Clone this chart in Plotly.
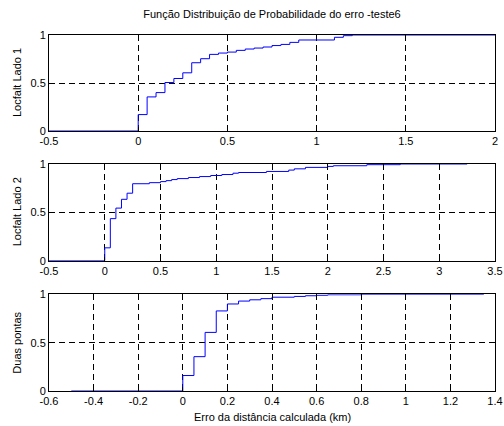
import plotly.graph_objects as go

lado1_x = [0.00, 0.05, 0.10, 0.15, 0.20, 0.25, 0.30, 0.35, 0.40, 0.45, 0.50,
           0.55, 0.60, 0.65, 0.70, 0.75, 0.80, 0.85, 0.90, 1.10, 1.15, 1.20]
lado1_y = [0.171, 0.355, 0.400, 0.505, 0.547, 0.606, 0.711, 0.753, 0.798, 0.812, 0.822,
           0.840, 0.854, 0.864, 0.875, 0.890, 0.902, 0.923, 0.948, 0.976, 0.993, 1.000]

lado2_x = [0.00, 0.05, 0.10, 0.15, 0.20, 0.25, 0.40, 0.50, 0.55, 0.60, 0.65, 0.75,
           0.85, 0.95, 1.05, 1.15, 1.20, 1.45, 1.65, 1.70, 1.80, 2.00, 2.05, 2.35, 2.65]
lado2_y = [0.133, 0.435, 0.544, 0.635, 0.698, 0.796, 0.807, 0.818, 0.828, 0.839, 0.849, 0.860,
           0.870, 0.881, 0.891, 0.905, 0.912, 0.923, 0.937, 0.950, 0.965, 0.975, 0.982, 0.993, 1.000]

duas_x = [0.00, 0.05, 0.10, 0.15, 0.20, 0.25, 0.30, 0.35, 0.40, 0.50, 0.55, 0.60, 0.65, 0.80]
duas_y = [0.160, 0.355, 0.606, 0.828, 0.900, 0.930, 0.943, 0.955, 0.970, 0.978, 0.985, 0.990, 0.995, 1.000]

curve_start = [-0.5, -0.5, -0.5]
curve_end = [2.0, 3.25, 1.35]

x_ranges = [[-0.5, 2.0], [-0.5, 3.5], [-0.6, 1.4]]
x_ticks = [[-0.5, 0, 0.5, 1, 1.5, 2],
           [-0.5, 0, 0.5, 1, 1.5, 2, 2.5, 3, 3.5],
           [-0.6, -0.4, -0.2, 0, 0.2, 0.4, 0.6, 0.8, 1, 1.2, 1.4]]
x_ticktext = [["-0.5", "0", "0.5", "1", "1.5", "2"],
              ["-0.5", "0", "0.5", "1", "1.5", "2", "2.5", "3", "3.5"],
              ["-0.6", "-0.4", "-0.2", "0", "0.2", "0.4", "0.6", "0.8", "1", "1.2", "1.4"]]
y_ticks = [0, 0.5, 1]
y_ticktext = ["0", "0.5", "1"]

y_titles = ["Locfalt Lado 1", "Locfalt Lado 2", "Duas pontas"]
title_text = "Função Distribuição de Probabilidade do erro -teste6"
x_title = "Erro da distância calculada (km)"

FONT = "Liberation Sans, Arial, sans-serif"

W, H = 504, 426
ML, MR, MT, MB = 49, 9, 35, 35
PH = H - MT - MB
PW = W - ML - MR

# pixel positions (top, bottom) of each axes box
boxes = [(35, 131), (164, 260.7), (294.3, 390.7)]
domains = [[1 - (b - MT) / PH, 1 - (t - MT) / PH] for t, b in boxes]
domains[0][1] = 1.0
domains[2][0] = 0.0

series = [(lado1_x, lado1_y), (lado2_x, lado2_y), (duas_x, duas_y)]

fig = go.Figure()
for i, (sx, sy) in enumerate(series):
    xs = [curve_start[i]] + list(sx) + [curve_end[i]]
    ys = [0] + list(sy) + [sy[-1]]
    fig.add_trace(go.Scatter(
        x=xs, y=ys, mode="lines", line=dict(color="#0000ff", width=1, shape="hv"),
        xaxis="x" if i == 0 else f"x{i+1}", yaxis="y" if i == 0 else f"y{i+1}",
        showlegend=False, hoverinfo="skip"))

axis_common = dict(
    showline=True, linecolor="black", linewidth=1, mirror="ticks",
    ticks="inside", ticklen=4, tickcolor="black", tickwidth=1,
    showgrid=True, gridcolor="black", gridwidth=1, griddash="6px,4px",
    zeroline=False, tickfont=dict(family=FONT, size=11, color="black"),
    fixedrange=True, ticklabeloverflow="allow",
)

layout = dict(
    width=W, height=H, paper_bgcolor="white", plot_bgcolor="white",
    margin=dict(l=ML, r=MR, t=MT, b=MB, autoexpand=False),
    showlegend=False,
    title=dict(text=title_text, x=(ML + PW / 2) / W, xanchor="center",
               y=1 - 14 / H, yanchor="middle",
               font=dict(family=FONT, size=11, color="black")),
    font=dict(family=FONT, size=11, color="black"),
)

annotations = []
for i in range(3):
    xk = "xaxis" if i == 0 else f"xaxis{i+1}"
    yk = "yaxis" if i == 0 else f"yaxis{i+1}"
    anchor_y = "y" if i == 0 else f"y{i+1}"
    anchor_x = "x" if i == 0 else f"x{i+1}"
    layout[xk] = dict(axis_common, range=x_ranges[i], tickvals=x_ticks[i],
                      ticktext=x_ticktext[i], anchor=anchor_y, domain=[0, 1])
    layout[yk] = dict(axis_common, range=[0, 1], tickvals=y_ticks,
                      ticktext=y_ticktext, anchor=anchor_x, domain=domains[i])
    annotations.append(dict(
        text=y_titles[i], textangle=-90, xref="paper", yref="paper",
        x=(17 - ML) / PW, y=sum(domains[i]) / 2, xanchor="center", yanchor="middle",
        showarrow=False, font=dict(family=FONT, size=11, color="black")))

annotations.append(dict(
    text=x_title, xref="paper", yref="paper", x=0.5, y=-(417 - (H - MB)) / PH,
    xanchor="center", yanchor="middle", showarrow=False,
    font=dict(family=FONT, size=11, color="black")))
layout["annotations"] = annotations

fig.update_layout(**layout)
fig.write_html("out.html", config={"displayModeBar": False},
               post_script="document.body.style.margin='0';document.body.style.overflow='hidden';")
